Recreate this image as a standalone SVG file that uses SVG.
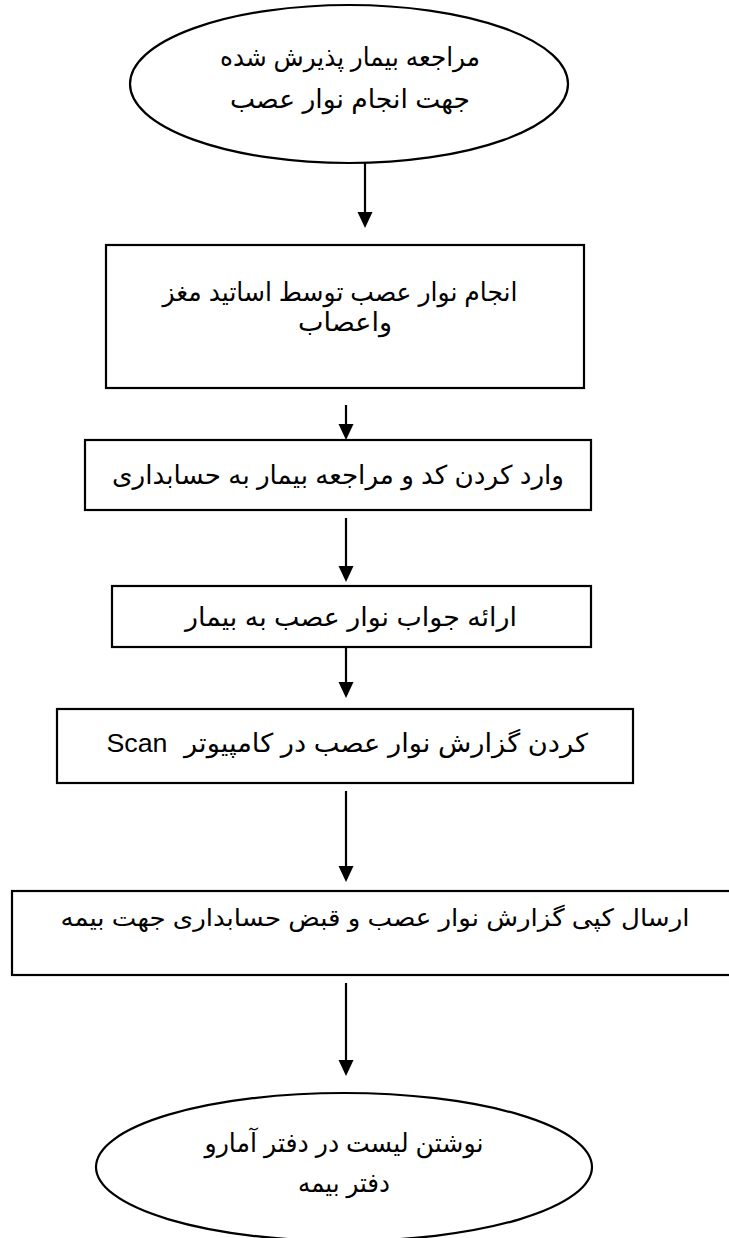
<svg xmlns="http://www.w3.org/2000/svg" width="729" height="1238" viewBox="0 0 729 1238">
<style>
.shape{fill:#fff;stroke:#000;stroke-width:2.2}
.lbl{font-family:"Liberation Sans","DejaVu Sans",Arial,sans-serif;font-size:26px;fill:#000;text-anchor:middle}
.sm{font-size:24px}
.lat{font-family:"Liberation Sans",Arial,sans-serif;font-size:26px;fill:#000;text-anchor:middle}
.conn{stroke:#000;stroke-width:2.2;fill:none;marker-end:url(#ah)}
</style>
<defs>
<marker id="ah" markerWidth="16" markerHeight="16" refX="8" refY="8" orient="auto" markerUnits="userSpaceOnUse">
<path d="M0,0.5 L16,8 L0,15.5 z" fill="#000"/>
</marker>
</defs>
<rect width="729" height="1238" fill="#fff"/>
<g id="connectors">
<line class="conn" x1="365" y1="163" x2="365" y2="220"/>
<line class="conn" x1="346" y1="405" x2="346" y2="432"/>
<line class="conn" x1="346" y1="518" x2="346" y2="574"/>
<line class="conn" x1="346" y1="642" x2="346" y2="690"/>
<line class="conn" x1="346" y1="791" x2="346" y2="874"/>
<line class="conn" x1="346" y1="983" x2="346" y2="1068"/>
</g>
<g id="n1">
<ellipse class="shape" cx="349" cy="84" rx="219" ry="79"/>
<text class="lbl" x="350" y="66" textLength="260" lengthAdjust="spacingAndGlyphs">مراجعه بيمار پذيرش شده</text>
<text class="lbl" x="350" y="108" textLength="240" lengthAdjust="spacingAndGlyphs">جهت انجام نوار عصب</text>
</g>
<g id="n2">
<rect class="shape" x="106" y="245" width="478" height="143"/>
<text class="lbl" x="340" y="301" textLength="355" lengthAdjust="spacingAndGlyphs">انجام نوار عصب توسط اساتيد مغز</text>
<text class="lbl" x="345" y="331" textLength="94" lengthAdjust="spacingAndGlyphs">واعصاب</text>
</g>
<g id="n3">
<rect class="shape" x="85" y="440" width="506" height="70"/>
<text class="lbl" x="338" y="484" textLength="452" lengthAdjust="spacingAndGlyphs">وارد کردن کد و مراجعه بيمار به حسابداری</text>
</g>
<g id="n4">
<rect class="shape" x="112" y="586" width="479" height="61"/>
<text class="lbl" x="351" y="626" textLength="332" lengthAdjust="spacingAndGlyphs">ارائه جواب نوار عصب به بيمار</text>
</g>
<g id="n5">
<rect class="shape" x="57" y="709" width="576" height="74"/>
<text class="lbl" x="386" y="752" textLength="404" lengthAdjust="spacingAndGlyphs">کردن گزارش نوار عصب در کامپيوتر</text>
<text class="lat" x="137" y="752" textLength="61" lengthAdjust="spacingAndGlyphs">Scan</text>
</g>
<g id="n6">
<rect class="shape" x="12" y="891" width="730" height="84"/>
<text class="lbl sm" x="375" y="926" textLength="629" lengthAdjust="spacingAndGlyphs">ارسال کپی گزارش نوار عصب و قبض حسابداری جهت بيمه</text>
</g>
<g id="n7">
<ellipse class="shape" cx="344" cy="1167" rx="248" ry="74"/>
<text class="lbl" x="344" y="1152" textLength="279" lengthAdjust="spacingAndGlyphs">نوشتن ليست در دفتر آمارو</text>
<text class="lbl" x="344" y="1192" textLength="92" lengthAdjust="spacingAndGlyphs">دفتر بيمه</text>
</g>
</svg>
